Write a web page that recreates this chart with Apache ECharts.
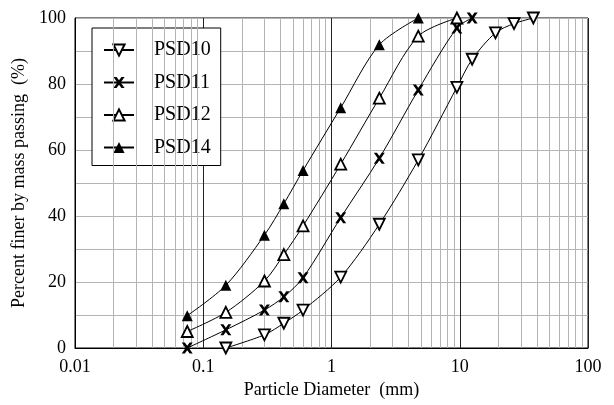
<!DOCTYPE html>
<html>
<head>
<meta charset="utf-8">
<script src="https://cdn.jsdelivr.net/npm/echarts@6/dist/echarts.min.js"></script>
<style>
  html, body { margin: 0; padding: 0; background: #fff; }
  #main { width: 614px; height: 405px; }
</style>
</head>
<body>
<div id="main"></div>
<script>
// sieve sizes (mm) and percent passing for each sample
var sizes = [0.075, 0.15, 0.3, 0.425, 0.6, 1.18, 2.36, 4.75, 9.5, 12.5, 19, 26.5, 37.5]
var psd10 = [null, 0, 4, 7.5, 11.5, 21.5, 37.5, 57, 79, 87.5, 95.5, 98.3, 100]
var psd11 = [0, 5.5, 11.5, 15.5, 21.3, 39.5, 57.5, 78.2, 97, 100, null, null, null]
var psd12 = [5, 10.8, 20.3, 28.3, 37, 55.7, 75.7, 94.5, 100, null, null, null, null]
var psd14 = [9.8, 19, 34.2, 43.7, 53.8, 72.8, 91.9, 100, null, null, null, null, null]
var names = ['PSD10', 'PSD11', 'PSD12', 'PSD14']
var xTicks = [0.01, 0.1, 1, 10, 100]

var serif = 'Liberation Serif'
var crossPath = 'path://M0,0 L2.8,0 L5,3 L7.2,0 L10,0 L6.5,5 L10,10 L7.2,10 L5,7 L2.8,10 L0,10 L3.5,5 Z'

function pairs(vals) {
  var out = []
  for (var i = 0; i < sizes.length; i++) {
    if (vals[i] != null) out.push([sizes[i], vals[i]])
  }
  return out
}

// minor log grid lines (2..9 in every decade)
var minorLines = []
for (var d = 0; d < xTicks.length - 1; d++) {
  for (var k = 2; k <= 9; k++) {
    minorLines.push({ xAxis: +(xTicks[d] * k).toPrecision(3) })
  }
}

function psdSeries(name, vals, symbol, rotate, filled, size) {
  return {
    name: name,
    type: 'line',
    data: pairs(vals),
    smooth: 0.3,
    clip: false,
    z: 5,
    symbol: symbol,
    symbolRotate: rotate,
    symbolSize: size,
    lineStyle: { color: '#000', width: 1 },
    itemStyle: {
      color: filled ? '#000' : '#fff',
      borderColor: '#000',
      borderWidth: filled ? 0 : 1.8
    }
  }
}

var chart = echarts.init(document.getElementById('main'))
var option = {
  animation: false,
  backgroundColor: '#fff',
  textStyle: { fontFamily: serif },
  grid: {
    left: 75, right: 26, top: 18, bottom: 57,
    show: true, borderColor: '#000', borderWidth: 1
  },
  legend: {
    data: names,
    orient: 'vertical',
    left: 92,
    top: 28,
    padding: [12, 10, 8, 11],
    itemWidth: 30,
    itemHeight: 14,
    itemGap: 12.5,
    borderColor: '#000',
    borderWidth: 1,
    backgroundColor: '#fff',
    textStyle: { fontFamily: serif, fontSize: 20, color: '#000', padding: [0, 0, 0, 15] }
  },
  xAxis: {
    type: 'log',
    logBase: 10,
    min: 0.01,
    max: 100,
    name: 'Particle Diameter  (mm)',
    nameLocation: 'middle',
    nameGap: 33,
    nameTextStyle: { fontFamily: serif, fontSize: 18, color: '#000' },
    axisLine: { lineStyle: { color: '#000' } },
    axisTick: { show: false },
    axisLabel: {
      fontFamily: serif, fontSize: 18, color: '#000', margin: 10,
      formatter: function (v) { return String(+v.toPrecision(3)) }
    },
    splitLine: { show: true, lineStyle: { color: '#222', width: 1 } }
  },
  yAxis: {
    type: 'value',
    min: 0,
    max: 100,
    interval: 10,
    name: 'Percent finer by mass passing  (%)',
    nameLocation: 'middle',
    nameGap: 42,
    nameTextStyle: { fontFamily: serif, fontSize: 18, color: '#000' },
    axisLine: { lineStyle: { color: '#000' } },
    axisTick: { show: false },
    axisLabel: {
      fontFamily: serif, fontSize: 18, color: '#000', margin: 9,
      formatter: function (v) { return v % 20 === 0 ? String(v) : '' }
    },
    splitLine: { show: true, lineStyle: { color: '#b4b4b4', width: 1 } }
  },
  series: [
    {
      name: 'minor',
      type: 'line',
      data: [],
      silent: true,
      z: 1,
      markLine: {
        silent: true,
        symbol: ['none', 'none'],
        label: { show: false },
        lineStyle: { color: '#b4b4b4', type: 'solid', width: 1 },
        emphasis: { disabled: true },
        data: minorLines
      }
    },
    psdSeries('PSD10', psd10, 'triangle', 180, false, 11),
    psdSeries('PSD11', psd11, crossPath, 0, true, 11),
    psdSeries('PSD12', psd12, 'triangle', 0, false, 11),
    psdSeries('PSD14', psd14, 'triangle', 0, true, 11)
  ]
}
chart.setOption(option)
</script>
</body>
</html>
